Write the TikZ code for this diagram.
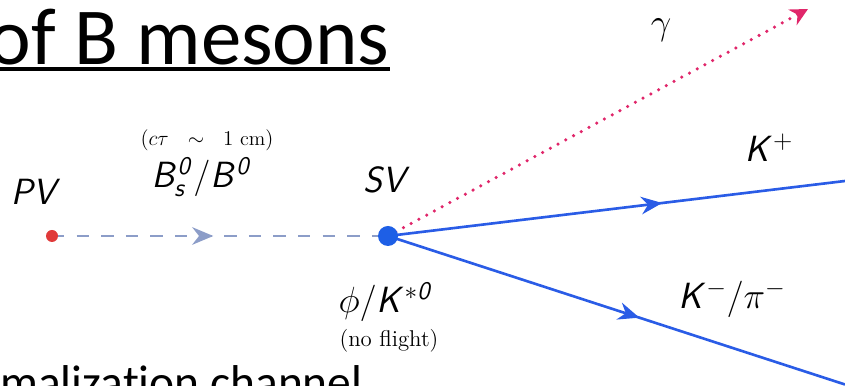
\documentclass[tikz,border=0pt]{standalone}
\usepackage{fontspec}
\usepackage{amsmath}
\usetikzlibrary{arrows.meta,decorations.markings}
\newfontfamily\slidefont[Ligatures=NoCommon]{Carlito}
\DeclareMathAlphabet{\mathsfit}{OT1}{cmss}{m}{sl}
\definecolor{trackblue}{HTML}{2A5CE6}
\definecolor{svblue}{HTML}{1E5FE6}
\definecolor{pvred}{HTML}{E03A3A}
\definecolor{flightgray}{HTML}{8C9DC8}
\definecolor{photonpink}{HTML}{E0266A}

\begin{document}
\begin{tikzpicture}[
  lab/.style={inner sep=0pt, font=\fontsize{20}{24}\selectfont},
  track/.style={trackblue, line width=1.5pt, postaction=decorate},
  midarrow/.style={decoration={markings, mark=at position #1 with {\arrow{Stealth[length=12pt,width=10pt]}}}}
]
  \path[use as bounding box, clip] (0,0) rectangle (16.9,7.72);
  % slide text cut by the frame
  \node[font=\slidefont\fontsize{46}{52}\selectfont, anchor=base east, inner sep=0pt] (title) at (7.80,6.42) {of B mesons};
  \draw[line width=2.8pt] ([yshift=-2.3pt]title.base west) -- ([yshift=-2.3pt]title.base east);
  \node[font=\slidefont\fontsize{27}{31}\selectfont, anchor=base west, inner sep=0pt] (channel) at (0,-0.25) {malization channel};
  % vertices and ends of the tracks
  \coordinate (pv) at (1.04,3.00); \coordinate (sv) at (7.76,3.00);
  \coordinate (kp) at (16.9,4.10); \coordinate (km) at (16.9,0.03); \coordinate (gam) at (16.16,7.54);
  \draw[flightgray, line width=1.5pt, dash pattern=on 7pt off 7pt, midarrow=0.48, postaction=decorate] (pv) -- (sv);
  \draw[photonpink, line width=2pt, line cap=round, dash pattern=on 0pt off 5pt, -{Stealth[length=10pt,width=10pt]}] (sv) -- (gam);
  \draw[track, midarrow=0.60] (sv) -- (kp);
  \draw[track, midarrow=0.55] (sv) -- (km);
  \node[circle, fill=pvred, minimum size=0.24cm, inner sep=0pt] (pvdot) at (pv) {};
  \node[circle, fill=svblue, minimum size=0.40cm, inner sep=0pt] (svdot) at (sv) {};
  % labels
  \node[lab] (pvlab) at (0.72,3.88) {$\mathsfit{PV}$};
  \node[lab] (svlab) at (7.74,4.12) {$\mathsfit{SV}$};
  \node[lab] (blab) at (4.04,4.18) {$\mathsfit{B}^{\mathsfit{0}}_{\mathsfit{s}}/\mathsfit{B}^{\mathsfit{0}}$};
  \node[inner sep=0pt, font=\fontsize{11.5}{13}\selectfont] (ctau) at (4.14,4.92) {$(c\tau\ \ \sim\ \ 1\ \mathrm{cm})$};
  \node[lab] (gamlab) at (13.22,7.12) {$\gamma$};
  \node[lab] (kplab) at (15.38,4.76) {$\mathsfit{K}^{+}$};
  \node[lab] (kmlab) at (14.64,1.74) {$\mathsfit{K}^{-}/\pi^{-}$};
  \node[lab] (reslab) at (7.72,1.68) {$\phi/\mathsfit{K}^{*\mathsfit{0}}$};
  \node[inner sep=0pt, font=\fontsize{13}{15}\selectfont] (noflight) at (7.78,0.90) {(no flight)};
\end{tikzpicture}
\end{document}
